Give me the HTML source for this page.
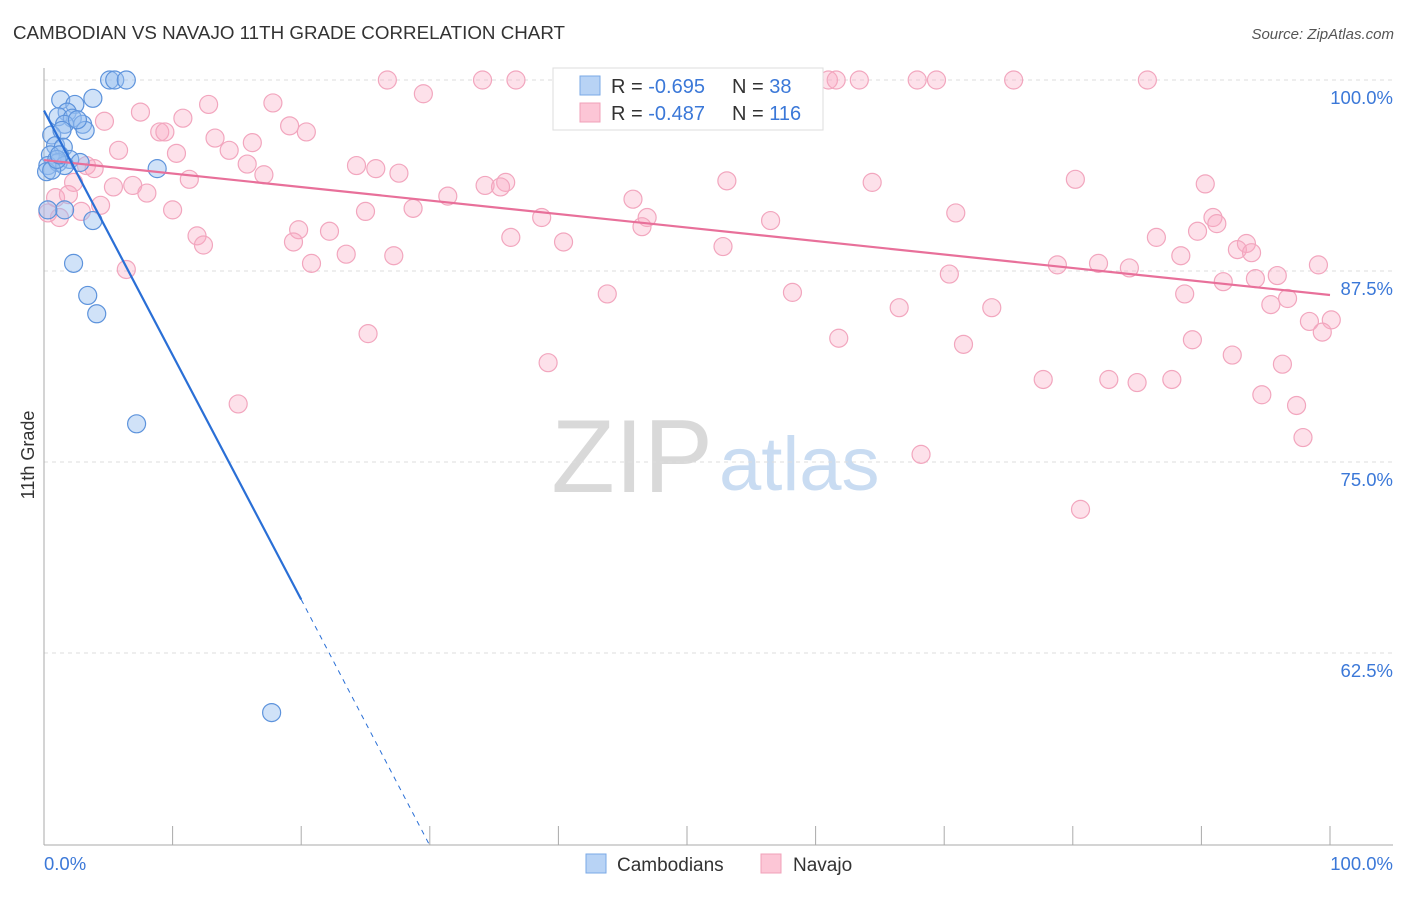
<!DOCTYPE html>
<html><head><meta charset="utf-8"><style>
body{margin:0;background:#fff;font-family:"Liberation Sans",sans-serif;}
svg text{font-family:"Liberation Sans",sans-serif;}
</style></head><body>
<svg id="chart" width="1406" height="892" viewBox="0 0 1406 892" xmlns="http://www.w3.org/2000/svg">
<text x="13" y="39" font-size="18" fill="#333" textLength="552" lengthAdjust="spacingAndGlyphs">CAMBODIAN VS NAVAJO 11TH GRADE CORRELATION CHART</text>
<text x="1394" y="39" font-size="15" fill="#555" font-style="italic" text-anchor="end">Source: ZipAtlas.com</text>
<g>
<text x="713" y="492" font-size="104" fill="#d9d9d9" text-anchor="end" font-family="Liberation Serif,serif">ZIP</text>
<text x="719" y="490" font-size="76" fill="#c9dcf2">atlas</text>
</g>
<g id="grid"></g>
<g id="axes"></g>
<g id="marks"></g>
<g>
<rect x="553" y="68" width="270" height="62" fill="#fff" stroke="#ddd"/>
<rect x="580" y="76" width="20" height="19" fill="#b8d3f5" stroke="#7aa8e6"/>
<rect x="580" y="103" width="20" height="19" fill="#fcc6d6" stroke="#f0a0b8"/>
<text x="611" y="93" font-size="20" fill="#333">R = <tspan fill="#3b78d8">-0.695</tspan></text>
<text x="732" y="93" font-size="20" fill="#333">N = <tspan fill="#3b78d8"> 38</tspan></text>
<text x="611" y="120" font-size="20" fill="#333">R = <tspan fill="#3b78d8">-0.487</tspan></text>
<text x="732" y="120" font-size="20" fill="#333">N = <tspan fill="#3b78d8">116</tspan></text>
</g>
<g>
<rect x="586" y="854" width="20" height="19" fill="#b8d3f5" stroke="#7aa8e6"/>
<text x="617" y="871" font-size="19" fill="#333">Cambodians</text>
<rect x="761" y="854" width="20" height="19" fill="#fcc6d6" stroke="#f0a0b8"/>
<text x="793" y="871" font-size="19" fill="#333">Navajo</text>
</g>
<text transform="translate(34,455) rotate(-90)" font-size="18" fill="#333" text-anchor="middle">11th Grade</text>
</svg>
<script>
const yTicks=[100,87.5,75,62.5];
const yTickLabels=["100.0%","87.5%","75.0%","62.5%"];
const xTicks=[0,10,20,30,40,50,60,70,80,90,100];
const blueX=[5.1,5.5,6.4,1.3,3.8,2.4,1.8,1.1,2.2,3.0,1.6,0.6,1.4,0.9,1.5,0.5,2.0,2.8,0.3,1.1,1.6,0.2,0.6,8.8,1.6,3.8,0.3,2.3,3.4,4.1,7.2,17.7,3.2,1.0,1.2,2.6];
const blueY=[100,100,100,98.7,98.8,98.4,97.9,97.6,97.5,97.1,97.1,96.4,96.7,95.7,95.6,95.1,94.8,94.6,94.4,94.6,94.4,94.0,94.1,94.2,91.5,90.8,91.5,88.0,85.9,84.7,77.5,58.6,96.7,94.8,95.1,97.4];
const pinkX=[26.7,34.1,36.7,52.4,61.0,61.6,63.4,67.9,69.4,75.4,85.8,29.5,17.8,12.8,7.5,10.8,4.7,19.1,9.0,9.4,20.4,13.3,16.2,5.8,14.4,10.3,15.8,24.3,25.8,3.3,3.9,17.1,27.6,11.3,2.3,5.4,6.9,8.0,31.4,34.3,35.9,35.5,45.8,53.1,64.4,80.2,90.3,0.9,1.9,4.4,10.0,25.0,28.7,2.9,1.2,70.9,38.7,46.9,46.5,56.5,90.9,91.2,19.8,22.2,11.9,12.4,19.4,36.3,40.4,52.8,86.5,89.7,93.5,92.8,93.9,23.5,27.2,20.8,6.4,78.8,82.0,84.4,99.1,70.4,88.4,91.7,94.2,95.9,43.8,58.2,88.7,96.7,95.4,66.5,73.7,25.2,61.8,71.5,89.3,98.4,100.1,99.4,92.4,39.2,96.3,77.7,82.8,85.0,87.7,15.1,94.7,97.4,97.9,68.2,80.6,0.3];
const pinkY=[100,100,100,100,100,100,100,100,100,100,100,99.1,98.5,98.4,97.9,97.5,97.3,97.0,96.6,96.6,96.6,96.2,95.9,95.4,95.4,95.2,94.5,94.4,94.2,94.4,94.2,93.8,93.9,93.5,93.3,93.0,93.1,92.6,92.4,93.1,93.3,93.0,92.2,93.4,93.3,93.5,93.2,92.3,92.5,91.8,91.5,91.4,91.6,91.4,91.0,91.3,91.0,91.0,90.4,90.8,91.0,90.6,90.2,90.1,89.8,89.2,89.4,89.7,89.4,89.1,89.7,90.1,89.3,88.9,88.7,88.6,88.5,88.0,87.6,87.9,88.0,87.7,87.9,87.3,88.5,86.8,87.0,87.2,86.0,86.1,86.0,85.7,85.3,85.1,85.1,83.4,83.1,82.7,83.0,84.2,84.3,83.5,82.0,81.5,81.4,80.4,80.4,80.2,80.4,78.8,79.4,78.7,76.6,75.5,71.9,91.3];
const blueTrend=[98.0,66.0,49.9]; // at x=0,20,30
const pinkTrend=[94.76,85.93]; // at x=0,100

const NS="http://www.w3.org/2000/svg";
const X0=44,X1=1330,YTOP=80,PXPER=191/12.5;
function sx(v){return X0+(X1-X0)*v/100;}
function sy(v){return YTOP+(100-v)*PXPER;}
function mk(tag,attrs,parent){const e=document.createElementNS(NS,tag);for(const k in attrs)e.setAttribute(k,attrs[k]);parent.appendChild(e);return e;}
const grid=document.getElementById('grid'),axes=document.getElementById('axes'),marks=document.getElementById('marks');
yTicks.forEach((t,i)=>{
  const l=mk('line',{x1:X0,x2:1393,y1:sy(t),y2:sy(t),stroke:'#ddd','stroke-dasharray':'4,4'},grid);
  
  
  const tx=mk('text',{x:1393,y:sy(t)+24,'font-size':18.5,fill:'#3b78d8','text-anchor':'end'},axes);
  tx.textContent=yTickLabels[i];
  
  
});
const ax=mk('line',{x1:X0,x2:X0,y1:68,y2:845,stroke:'#aaa'},axes);


const bx=mk('line',{x1:X0,x2:1393,y1:845,y2:845,stroke:'#aaa'},axes);


xTicks.forEach(t=>{
  const l=mk('line',{x1:sx(t),x2:sx(t),y1:826,y2:845,stroke:'#aaa'},axes);
  
  
});
const xl0=mk('text',{x:X0,y:870,'font-size':18.5,fill:'#3b78d8'},axes);xl0.textContent='0.0%';


const xl1=mk('text',{x:1393,y:870,'font-size':18.5,fill:'#3b78d8','text-anchor':'end'},axes);xl1.textContent='100.0%';


pinkX.forEach((v,i)=>{
  const c=mk('circle',{cx:sx(v),cy:sy(pinkY[i]),r:9,fill:'rgba(248,170,195,0.35)',stroke:'#f2a6be','stroke-width':1.2},marks);
  
  
});
blueX.forEach((v,i)=>{
  const c=mk('circle',{cx:sx(v),cy:sy(blueY[i]),r:9,fill:'rgba(150,190,240,0.45)',stroke:'#5d93dc','stroke-width':1.2},marks);
  
  
});
const pl=mk('line',{x1:sx(0),y1:sy(pinkTrend[0]),x2:sx(100),y2:sy(pinkTrend[1]),stroke:'#e8709a','stroke-width':2.2},marks);


const bl=mk('line',{x1:sx(0),y1:sy(blueTrend[0]),x2:sx(20),y2:sy(blueTrend[1]),stroke:'#2a6fd6','stroke-width':2.2},marks);


const bd=mk('line',{x1:sx(20),y1:sy(blueTrend[1]),x2:sx(30),y2:sy(blueTrend[2]),stroke:'#2a6fd6','stroke-width':1,'stroke-dasharray':'5,5'},marks);


</script>
</body></html>
